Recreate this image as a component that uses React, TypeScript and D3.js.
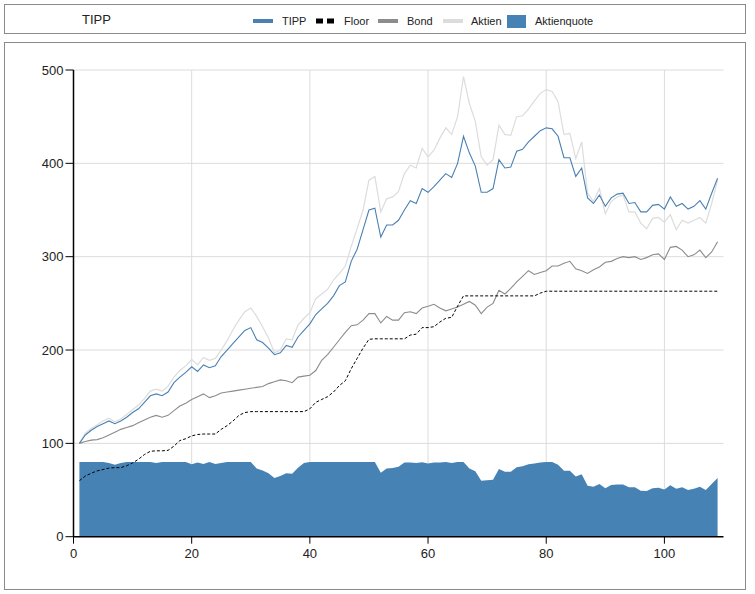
import React from "react";
import * as d3 from "d3";

const tipp = [100,109,114,118,121,124,121,124,128,133,137,144,151,153,151,155,165,171,176,182,177,184,181,183,193,200,207,214,221,224,211,208,202,195,197,205,203,214,221,228,238,244,250,258,269,273,295,308,329,350,352,321,334,334,339,350,360,357,373,369,375,382,389,385,400,429,411,397,369,369,373,404,395,396,413,415,423,429,435,438,437,429,406,406,386,395,363,357,366,354,363,367,368,357,358,348,348,355,356,351,364,354,357,351,354,360,351,368,384];
const floorVals = [60,65,68,70.5,72,73.5,74,74,76,79,83,88,91.5,92,92,92.5,97,103,105,108,109.5,110,110,110,115,119,124,130,133,134,134,134,134,134,134,134,134,134,134,137,144,147,150,155,162,167,180,191,202,211.5,212,212,212,212,212,212,216,217,224,224,225,230,234,235,247,258,258,258,258,258,258,258,258,258,258,258,258,258,261,263,263,263,263,263,263,263,263,263,263,263,263,263,263,263,263,263,263,263,263,263,263,263,263,263,263,263,263,263,263];
const bond = [100,102,103.5,104,106,109,112,115,117,119,122,125,128,130,128,130,135,140,143,147,150,153,149,151,154,155,156,157,158,159,160,161,164,166,168,167,165,171,172,173,178,189,195,203,211,219,226,227,232,239,239,229,236,232,232,240,241,239,245,247,249,245,242,244,246,249,252,248,239,246,250,264,260,266,273,279,285,281,283,285,290,290,293,295,287,285,282,286,289,294,295,298,300,299,300,297,299,302,303,297,310,311,307,300,302,307,299,305,316];
const aktien = [100,111,116,120,124,127,123,126,131,136,141,148,156,158,156,161,171,178,183,190,184,192,189,191,200,210,222,232,241,245,236,225,213,197,200,212,211,227,234,240,255,260,265,275,282,290,311,330,350,382,386,348,362,364,370,389,398,395,416,407,414,427,438,431,450,493,464,445,407,398,404,441,431,430,450,451,458,467,475,479,477,466,431,432,405,423,368,359,373,346,359,364,366,348,348,336,330,341,342,337,345,329,339,336,339,342,336,357,382];
const aktienquote = [80,80,80,80,80,79,77,79,80,80,80,80,80,79,80,80,80,80,80,77.5,79.5,78,80,78,79,80,80,80,80,80,73,71,68,63,65,68,67.5,74,79,80,80,80,80,80,80,80,80,80,80,80,80,68.5,73,73.5,75,79.5,79.5,79,79.7,78.5,79.5,79.5,80,79,80,80,73,70,60,60.5,61,72.5,69.6,69.6,74.3,75.5,77.5,78.5,79.5,80,80,77,70.7,70.7,64.4,66.8,54.6,53.6,56.4,51.8,55.4,56,56,53,53,49.3,49,51.8,52.5,50.7,55,51.4,53,50,51.4,53.6,50,56.4,63];

const xTicks = [0, 20, 40, 60, 80, 100];
const yTicks = [0, 100, 200, 300, 400, 500];
const legendItems = ["TIPP", "Floor", "Bond", "Aktien", "Aktienquote"];

const W = 755, H = 594;
const FONT = "'Liberation Sans', Arial, sans-serif";

export default function App() {
  const x = d3.scaleLinear().domain([0, 110]).range([73.5, 723.5]);
  const y = d3.scaleLinear().domain([0, 500]).range([536.7, 70]);
  const idx = tipp.map((_, i) => i + 1);

  const line = (vals: number[]) =>
    d3.line<number>().x((_, i) => x(idx[i])).y((v) => y(v))(vals) || "";
  const area =
    d3.area<number>().x((_, i) => x(idx[i])).y0(y(0)).y1((v) => y(v))(aktienquote) || "";

  const legendX = [253, 316, 378, 443, 507];
  const textX = [282, 344, 407, 471, 535];

  return (
    <svg width={W} height={H} style={{ position: "absolute", left: 0, top: 0, background: "#fff" }} fontFamily={FONT}>
      <rect x={4.5} y={4.5} width={741} height={29} fill="none" stroke="#8a8a8a" />
      <rect x={4.5} y={42.5} width={741} height={547} fill="none" stroke="#8a8a8a" />
      <text x={82} y={24} fontSize={13} fill="#222">TIPP</text>
      {legendItems.map((name, k) => (
        <g key={name}>
          {k === 0 && <rect x={legendX[k]} y={19} width={20} height={4} fill="#4a80b2" />}
          {k === 1 && <line x1={legendX[k]} x2={legendX[k] + 20} y1={21} y2={21} stroke="#000" strokeWidth={5} strokeDasharray="7,4" />}
          {k === 2 && <rect x={legendX[k]} y={19} width={20} height={4} fill="#8c8c8c" />}
          {k === 3 && <rect x={legendX[k]} y={19} width={20} height={4} fill="#dcdcdc" />}
          {k === 4 && <rect x={legendX[k]} y={15} width={19} height={13} fill="#4682b4" />}
          <text x={textX[k]} y={25} fontSize={11} fill="#222">{name}</text>
        </g>
      ))}
      {yTicks.filter((t) => t > 0).map((t) => (
        <line key={"gy" + t} x1={x(0)} x2={x(110)} y1={y(t)} y2={y(t)} stroke="#dcdcdc" />
      ))}
      {xTicks.filter((t) => t > 0).map((t) => (
        <line key={"gx" + t} x1={x(t)} x2={x(t)} y1={y(500)} y2={y(0)} stroke="#dcdcdc" />
      ))}
      <path d={area} fill="#4682b4" />
      <path d={line(aktien)} fill="none" stroke="#dcdcdc" strokeWidth={1.2} />
      <path d={line(bond)} fill="none" stroke="#8c8c8c" strokeWidth={1.1} />
      <path d={line(tipp)} fill="none" stroke="#4a80b2" strokeWidth={1.1} />
      <path d={line(floorVals)} fill="none" stroke="#000" strokeWidth={1} strokeDasharray="3,2" />
      <line x1={x(0)} x2={x(0)} y1={y(500)} y2={y(0)} stroke="#000" strokeWidth={1.5} />
      <line x1={x(0)} x2={x(110)} y1={y(0)} y2={y(0)} stroke="#000" strokeWidth={1.5} />
      {yTicks.map((t) => (
        <g key={"ty" + t}>
          <line x1={x(0) - 8} x2={x(0)} y1={y(t)} y2={y(t)} stroke="#000" />
          <text x={x(0) - 10} y={y(t)} dy="0.35em" textAnchor="end" fontSize={13} fill="#222">{t}</text>
        </g>
      ))}
      {xTicks.map((t) => (
        <g key={"tx" + t}>
          <line x1={x(t)} x2={x(t)} y1={y(0)} y2={y(0) + 7} stroke="#000" />
          <text x={x(t)} y={y(0) + 21} textAnchor="middle" fontSize={13} fill="#222">{t}</text>
        </g>
      ))}
    </svg>
  );
}
